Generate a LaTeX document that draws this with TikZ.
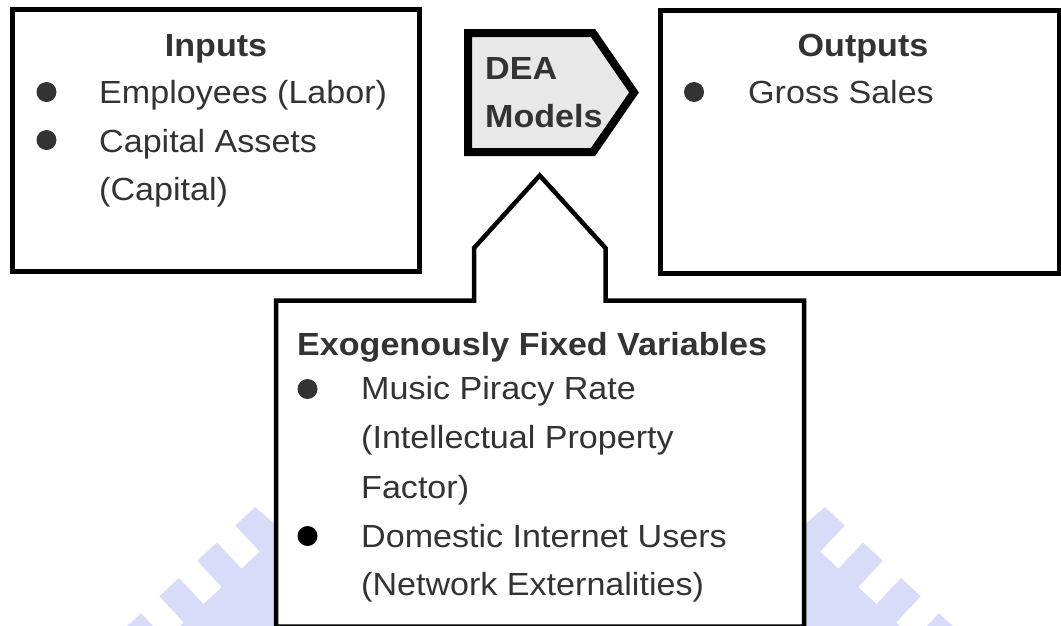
\documentclass[tikz,border=0pt]{standalone}
\usepackage{fontspec}
\setmainfont{Liberation Sans}[FakeStretch=1.065]
\definecolor{txtgray}{HTML}{333333}
\definecolor{deagray}{HTML}{E8E8E8}
\definecolor{wmark}{RGB}{216,220,249}
\begin{document}
\begin{tikzpicture}[x=1pt,y=-1pt,
  txt/.style={inner sep=0pt, anchor=base west, text=txtgray,
    font=\fontsize{32}{38}\selectfont},
  head/.style={txt, anchor=base, font=\fontsize{32}{38}\selectfont\bfseries},
  bold/.style={txt, font=\fontsize{32}{38}\selectfont\bfseries},
  dot/.style={circle, fill=txtgray, minimum size=20pt, inner sep=0pt},
  frame/.style={draw=black, line width=5pt, line join=miter},
]
\useasboundingbox (0,0) rectangle (1061,625);

% faint logo pieces behind the lower box (mirrored about x = 540)
\foreach \s/\o in {1/0,-1/1080}{
  \fill[wmark]
    ({\o+\s*795},533) -- ({\o+\s*825},507) -- ({\o+\s*844.7},525.4)
    -- ({\o+\s*820.2},551.7) -- ({\o+\s*838.5},568.7) -- ({\o+\s*863},542.4)
    -- ({\o+\s*882.7},560.8) -- ({\o+\s*858.2},587.1) -- ({\o+\s*876.5},604.1)
    -- ({\o+\s*901},577.8) -- ({\o+\s*920.7},596.2) -- ({\o+\s*896.2},622.5)
    -- ({\o+\s*914.5},639.5) -- ({\o+\s*939},613.2) -- ({\o+\s*958.7},631.6)
    -- ({\o+\s*965},645) -- ({\o+\s*795},645) -- cycle;
}

% Inputs box
\draw[frame] (12.5,9.5) rectangle (419,271);
\node[head] (inhead) at (216,56) {Inputs};
\node[dot] (inb1) at (46.5,92) {};
\node[txt] (in1) at (99,103) {Employees (Labor)};
\node[dot] (inb2) at (46.5,140) {};
\node[txt] (in2) at (99,152) {Capital Assets};
\node[txt] (in3) at (99,200) {(Capital)};

% Outputs box
\draw[frame] (660.5,10) rectangle (1059,273);
\node[head] (outhead) at (863,56) {Outputs};
\node[dot] (outb1) at (694,92) {};
\node[txt] (out1) at (748,103) {Gross Sales};

% DEA pentagon arrow
\filldraw[fill=deagray, draw=black, line width=8pt, line join=miter]
  (468,33) -- (593,33) -- (634,92.5) -- (593,152) -- (468,152) -- cycle;
\node[bold] (dea1) at (485,79) {DEA};
\node[bold] (dea2) at (485,127) {Models};

% Exogenous variables box with upward arrow
\filldraw[fill=white, draw=black, line width=4.5pt, line join=miter]
  (276,626.5) -- (276,300.5) -- (474,300.5) -- (474,248) -- (539.75,175.5)
  -- (605.5,248) -- (605.5,300.5) -- (804,300.5) -- (804,626.5) -- cycle;
\node[bold] (exhead) at (297,355) {Exogenously Fixed Variables};
\node[dot] (exb1) at (307.5,389) {};
\node[txt] (ex1) at (361,399) {Music Piracy Rate};
\node[txt] (ex2) at (361,448) {(Intellectual Property};
\node[txt] (ex3) at (361,498) {Factor)};
\node[dot, fill=black] (exb2) at (307.5,536) {};
\node[txt] (ex4) at (361,547) {Domestic Internet Users};
\node[txt] (ex5) at (361,595) {(Network Externalities)};
\end{tikzpicture}
\end{document}
